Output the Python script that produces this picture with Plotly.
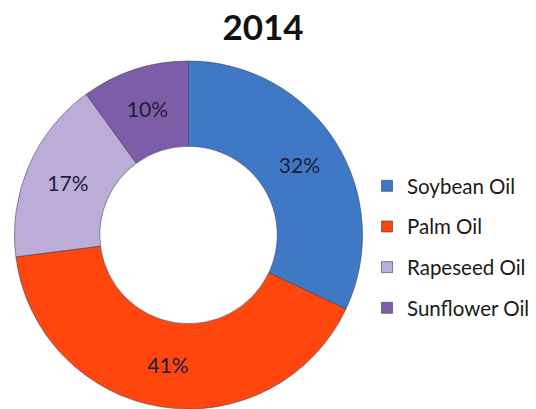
import plotly.graph_objects as go

labels = ["Soybean Oil", "Palm Oil", "Rapeseed Oil", "Sunflower Oil"]
values = [32, 41, 17, 10]
colors = ["#3F78C4", "#FF460E", "#BBACD8", "#7E5DA8"]
title_text = "2014"

W, H = 536, 409
T = 61
fig = go.Figure()
fig.add_trace(go.Pie(
    labels=labels, values=values, sort=False, direction="clockwise", rotation=0,
    hole=0.51,
    marker=dict(colors=colors, line=dict(color="rgba(60,60,80,0.55)", width=1)),
    texttemplate="%{value}%", textposition="inside", insidetextorientation="horizontal",
    textfont=dict(family="Lato", size=21, color="#1c1c3c"),
    domain=dict(x=[0, 377 / W], y=[0, 1]),
    showlegend=False, hoverinfo="label+percent",
))
for i, (lab, col) in enumerate(zip(labels, colors)):
    fig.add_trace(go.Scatter(
        x=[None], y=[None], mode="markers", name=lab, legendgroup=f"g{i}",
        marker=dict(symbol="square", size=11, color=col,
                    line=dict(color="rgba(60,60,80,0.6)", width=1)),
    ))

fig.update_layout(
    width=W, height=H,
    margin=dict(l=0, r=0, t=T, b=0, autoexpand=False),
    paper_bgcolor="white", plot_bgcolor="white",
    title=dict(text=f"<b>{title_text}</b>", x=263 / W, xanchor="center",
               y=1 - 28 / H, yanchor="middle", yref="container", xref="container",
               font=dict(family="Lato", size=35, color="#111111")),
    xaxis=dict(visible=False), yaxis=dict(visible=False),
    legend=dict(x=367 / W, y=1 - (166 - T) / (H - T),
                yanchor="top", xanchor="left", traceorder="grouped",
                tracegroupgap=11, font=dict(family="Lato", size=20.5, color="#1a1a1a"),
                bgcolor="rgba(0,0,0,0)"),
)
fig.write_html("out.html")
